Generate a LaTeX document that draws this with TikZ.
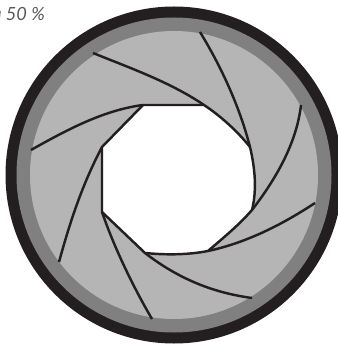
\documentclass[tikz,border=0pt]{standalone}
\usepackage{fontspec}
\usepackage{xcolor}
\setmainfont{Lato}
\definecolor{ringblack}{HTML}{231F20}
\definecolor{ringgray}{HTML}{808080}
\definecolor{bladegray}{HTML}{B5B5B5}
\definecolor{captiongray}{HTML}{58595B}

\begin{document}
\begin{tikzpicture}[
x=0.03cm,y=-0.03cm,
blade/.style={
draw=ringblack,
line width=2.1pt,
line join=round
},
caption/.style={
anchor=east,
inner sep=0pt,
text=captiongray,
font=\fontsize{15.5}{18}\selectfont\itshape
}
]
\useasboundingbox (0,0) rectangle (337,346);

% Rings
\fill[ringblack] (174,175) circle[radius=168.5];
\fill[ringgray] (174,175) circle[radius=157.5];
\fill[bladegray] (174,175) circle[radius=144];

% Corners of the opening
\coordinate (topleft) at (143,105);
\coordinate (topright) at (204,105);
\coordinate (righttop) at (250,147);
\coordinate (rightlow) at (252,210);
\coordinate (lowright) at (208,251);
\coordinate (lowleft) at (145,253);
\coordinate (leftlow) at (102,212);
\coordinate (lefttop) at (102,147);

% Opening
\fill[white] (topleft) -- (topright)
.. controls (222,117) and (238,132) .. (righttop)
.. controls (255,168) and (257,190) .. (rightlow)
.. controls (238,226) and (223,238) .. (lowright)
.. controls (187,255) and (166,255) .. (lowleft)
-- (leftlow) -- (lefttop) -- cycle;

% Blades
\draw[blade] (93,53) .. controls (130,68) and (170,82) .. (topright)
.. controls (222,117) and (238,132) .. (righttop);
\draw[blade] (200,32) .. controls (222,68) and (240,108) .. (righttop)
.. controls (255,168) and (257,190) .. (rightlow);
\draw[blade] (301,105) .. controls (297,140) and (279,175) .. (rightlow)
.. controls (238,226) and (223,238) .. (lowright);
\draw[blade] (315,203) .. controls (280,226) and (245,243) .. (lowright)
.. controls (187,255) and (166,255) .. (lowleft);
\draw[blade] (252,298) .. controls (215,293) and (180,280) .. (lowleft) -- (leftlow);
\draw[blade] (152,319) .. controls (135,290) and (115,250) .. (leftlow) -- (lefttop);
\draw[blade] (59,262) .. controls (70,222) and (82,185) .. (lefttop) -- (topleft);
\draw[blade] (31,150) .. controls (70,128) and (105,110) .. (topleft) -- (topright);

% Caption
\node[caption] (label) at (45,14) {a 50 \%};

\end{tikzpicture}
\end{document}
